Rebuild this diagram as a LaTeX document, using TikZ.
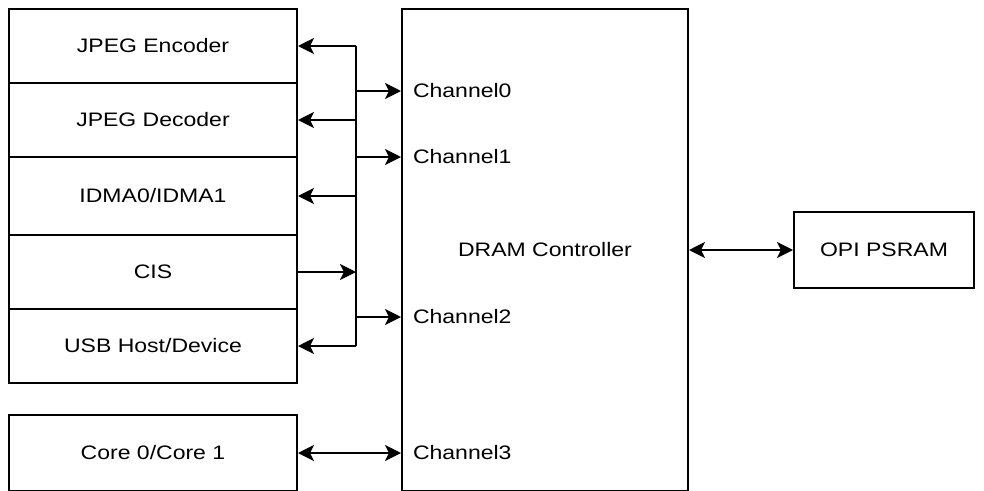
\documentclass[tikz,border=0pt]{standalone}
\usepackage{fontspec}
\setmainfont{Liberation Sans}[FakeStretch=1.18]
\usetikzlibrary{arrows.meta}

\begin{document}
\begin{tikzpicture}[x=1pt,y=-1pt,line width=2pt,
  font=\fontsize{19.5pt}{23pt}\selectfont,
  blk/.style={draw,rectangle,inner sep=0pt},
  arr/.style={-{Stealth[length=16pt,width=16pt,inset=4pt]}},
  darr/.style={{Stealth[length=16pt,width=16pt,inset=4pt]}-{Stealth[length=16pt,width=16pt,inset=4pt]}}]
\useasboundingbox (0,0) rectangle (984,490);

\node[blk,minimum width=288pt,minimum height=74pt] (enc) at (153,46) {JPEG Encoder};
\node[blk,minimum width=288pt,minimum height=74pt] (dec) at (153,120) {JPEG Decoder};
\node[blk,minimum width=288pt,minimum height=78pt] (idma) at (153,196) {IDMA0/IDMA1};
\node[blk,minimum width=288pt,minimum height=74pt] (cis) at (153,272) {CIS};
\node[blk,minimum width=288pt,minimum height=74pt] (usb) at (153,346) {USB Host/Device};
\node[blk,minimum width=288pt,minimum height=76pt] (core) at (153,453) {Core 0/Core 1};

\node[blk,minimum width=286pt,minimum height=482pt] (dram) at (545,250) {DRAM Controller};
\node[blk,minimum width=180pt,minimum height=76pt] (psram) at (884,250) {OPI PSRAM};

\node[anchor=west,inner sep=0pt] (ch0) at (412,91) {Channel0};
\node[anchor=west,inner sep=0pt] (ch1) at (412,157) {Channel1};
\node[anchor=west,inner sep=0pt] (ch2) at (412,317) {Channel2};
\node[anchor=west,inner sep=0pt] (ch3) at (412,453) {Channel3};

\coordinate (bus) at (356,0);

% shared bus
\path[draw] (enc.east -| bus) -- (usb.east -| bus);
\path[draw,arr] (enc.east -| bus) -- (enc.east);
\path[draw,arr] (dec.east -| bus) -- (dec.east);
\path[draw,arr] (idma.east -| bus) -- (idma.east);
\path[draw,arr] (cis.east) -- (cis.east -| bus);
\path[draw,arr] (usb.east -| bus) -- (usb.east);

\path[draw,arr] (ch0.west -| bus) -- (ch0.west -| dram.west);
\path[draw,arr] (ch1.west -| bus) -- (ch1.west -| dram.west);
\path[draw,arr] (ch2.west -| bus) -- (ch2.west -| dram.west);

\path[draw,darr] (core.east) -- (core.east -| dram.west);
\path[draw,darr] (psram.west -| dram.east) -- (psram.west);
\end{tikzpicture}
\end{document}
